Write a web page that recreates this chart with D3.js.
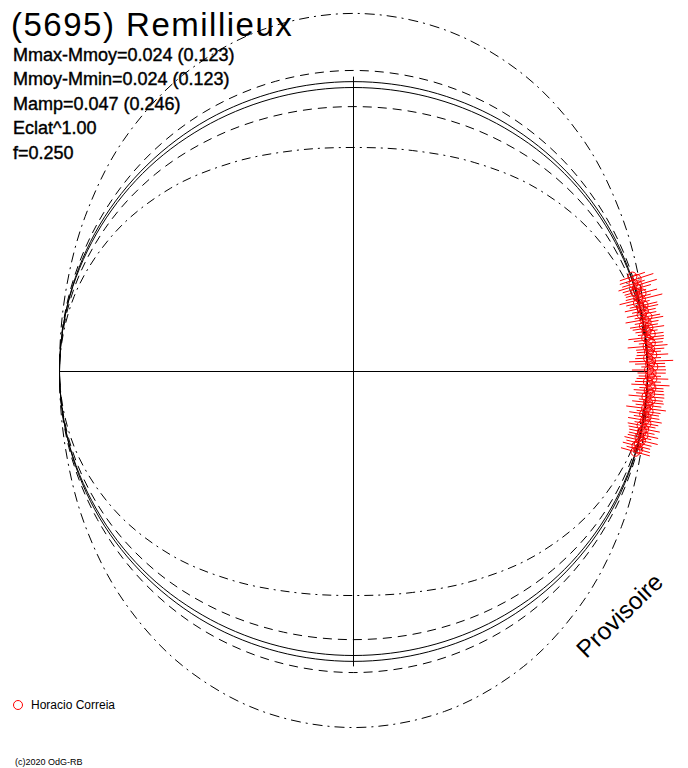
<!DOCTYPE html>
<html><head><meta charset="utf-8">
<script src="https://cdn.jsdelivr.net/npm/d3@7"></script>
<style>body{margin:0;background:#fff;} svg{display:block;}</style>
</head><body>
<script>
// ---- text ----
const titleText = "(5695) Remillieux";
const statLabels = ["Mmax-Mmoy=0.024 (0.123)", "Mmoy-Mmin=0.024 (0.123)", "Mamp=0.047 (0.246)", "Eclat^1.00", "f=0.250"];
const observerName = "Horacio Correia";
const creditText = "(c)2020 OdG-RB";
const stampText = "Provisoire";

// ---- model curves: polar angle (deg) and relative radius (brightness) ----
const curveAngles = [0,15,30,45,60,75,90,105,120,135,150,165,180,195,210,225,240,255,270,285,300,315,330,345];
const curveOuterDashDot = [1.000,1.015,1.054,1.109,1.163,1.203,1.218,1.203,1.163,1.109,1.054,1.015,1.000,1.014,1.053,1.105,1.158,1.197,1.211,1.197,1.158,1.105,1.053,1.014];
const curveOuterDashed  = [1.000,1.002,1.006,1.012,1.018,1.022,1.024,1.022,1.018,1.012,1.006,1.002,1.000,1.002,1.006,1.012,1.018,1.022,1.024,1.022,1.018,1.012,1.006,1.002];
const curveSolid1       = [1.000,0.999,0.997,0.993,0.990,0.987,0.986,0.987,0.990,0.993,0.997,0.999,1.000,0.999,0.997,0.993,0.990,0.987,0.986,0.987,0.990,0.993,0.997,0.999];
const curveSolid2       = [1.000,0.998,0.991,0.983,0.974,0.968,0.966,0.968,0.974,0.983,0.991,0.998,1.000,0.998,0.991,0.983,0.974,0.968,0.966,0.968,0.974,0.983,0.991,0.998];
const curveInnerDashed  = [1.000,0.993,0.975,0.951,0.926,0.908,0.901,0.908,0.926,0.951,0.975,0.993,1.000,0.994,0.978,0.956,0.934,0.918,0.912,0.918,0.934,0.956,0.978,0.994];
const curveInnerDashDot = [1.000,0.984,0.940,0.881,0.821,0.778,0.762,0.778,0.821,0.881,0.940,0.984,1.000,0.984,0.940,0.881,0.821,0.778,0.762,0.778,0.821,0.881,0.940,0.984];

// ---- observations: [angle deg, relative radius, error] ----
const observations = [
 [18.8,1.002,0.045],[18.1,1.013,0.060],[17.4,0.998,0.040],[16.9,1.010,0.068],[16.3,1.004,0.050],
 [15.7,0.996,0.038],[15.2,1.015,0.055],[14.6,1.001,0.044],[14.1,1.008,0.075],[13.5,0.995,0.041],
 [12.9,1.012,0.048],[12.4,1.003,0.058],[11.8,1.009,0.041],[11.2,0.999,0.051],[10.6,1.017,0.044],
 [10.1,1.005,0.065],[9.5,1.011,0.041],[8.9,1.000,0.048],[8.4,1.014,0.054],[7.8,1.006,0.038],
 [7.2,1.019,0.044],[6.6,1.002,0.061],[6.1,1.010,0.051],[5.5,1.016,0.041],[4.9,1.004,0.068],
 [4.3,1.012,0.048],[3.8,1.007,0.041],[3.2,1.018,0.054],[2.6,1.003,0.044],[2.0,1.013,0.075],
 [1.5,1.009,0.051],[0.9,1.020,0.041],[0.3,1.005,0.058],[-0.3,1.014,0.048],[-0.9,1.008,0.038],
 [-1.4,1.017,0.054],[-2.0,1.002,0.044],[-2.6,1.011,0.065],[-3.2,1.015,0.041],[-3.7,1.006,0.051],
 [-4.3,1.012,0.048],[-4.9,1.000,0.061],[-5.5,1.016,0.041],[-6.0,1.007,0.054],[-6.6,1.010,0.044],
 [-7.2,1.003,0.068],[-7.8,1.013,0.041],[-8.3,0.999,0.051],[-8.9,1.009,0.044],[-9.5,1.005,0.058],
 [-10.1,1.012,0.041],[-10.6,0.997,0.048],[-11.2,1.008,0.054],[-11.8,1.002,0.044],[-12.4,1.010,0.051],
 [-12.9,0.998,0.041],[-13.5,1.006,0.058],[-14.1,1.001,0.044],[-14.7,0.995,0.048],[-15.3,1.004,0.041],
 [-15.9,0.997,0.051]
];

// ---- layout ----
const W = 688, H = 768;
const cx = 353.5, cy = 371.5;
const rScale = d3.scaleLinear().domain([0, 1]).range([0, 294]);
const toRad = d => d * Math.PI / 180;

const svg = d3.select("body").append("svg").attr("width", W).attr("height", H);
svg.append("rect").attr("width", W).attr("height", H).attr("fill", "#fff");

const g = svg.append("g").attr("transform", `translate(${cx},${cy})`);

// axes
g.append("line").attr("x1", -rScale(1)).attr("x2", rScale(1)).attr("y1", 0).attr("y2", 0)
  .attr("stroke", "#000").attr("stroke-width", 1);
g.append("line").attr("y1", -rScale(1.003)).attr("y2", rScale(1.003)).attr("x1", 0).attr("x2", 0)
  .attr("stroke", "#000").attr("stroke-width", 1);

// curves
const radial = d3.lineRadial()
  .angle(d => Math.PI / 2 - toRad(d[0]))
  .radius(d => rScale(d[1]))
  .curve(d3.curveCardinalClosed.tension(0));

const curves = [
  {v: curveOuterDashDot, dash: "10,5,2,5"},
  {v: curveOuterDashed, dash: "9,6"},
  {v: curveSolid1, dash: null},
  {v: curveSolid2, dash: null},
  {v: curveInnerDashed, dash: "9,6"},
  {v: curveInnerDashDot, dash: "9,5,2,5"}
];
curves.forEach(c => {
  const pts = curveAngles.map((a, i) => [a, c.v[i]]);
  g.append("path").attr("d", radial(pts))
    .attr("fill", "none").attr("stroke", "#000").attr("stroke-width", 1)
    .attr("stroke-dasharray", c.dash);
});

// observations
const px = (a, r) => rScale(r) * Math.cos(toRad(a));
const py = (a, r) => -rScale(r) * Math.sin(toRad(a));
const obs = g.append("g");
obs.selectAll("line").data(observations).join("line")
  .attr("x1", d => px(d[0], d[1] - d[2])).attr("y1", d => py(d[0], d[1] - d[2]))
  .attr("x2", d => px(d[0], d[1] + d[2])).attr("y2", d => py(d[0], d[1] + d[2]))
  .attr("stroke", "#ff0000").attr("stroke-width", 1);
obs.selectAll("circle").data(observations).join("circle")
  .attr("cx", d => px(d[0], d[1])).attr("cy", d => py(d[0], d[1]))
  .attr("r", 4.5).attr("fill", "none").attr("stroke", "#ff0000").attr("stroke-width", 1);

// texts
const font = "'Liberation Sans', Arial, Helvetica, sans-serif";
svg.append("text").attr("x", 11).attr("y", 36).text(titleText)
  .attr("font-family", font).attr("font-size", 33).attr("letter-spacing", 1.5).attr("fill", "#000");
svg.selectAll("text.stat").data(statLabels).join("text").attr("class", "stat")
  .attr("x", 13).attr("y", (d, i) => 61 + i * 24.4).text(d => d)
  .attr("font-family", font).attr("font-size", 18).attr("fill", "#000")
  .attr("stroke", "#000").attr("stroke-width", 0.4);

svg.append("circle").attr("cx", 18).attr("cy", 705).attr("r", 4.5)
  .attr("fill", "none").attr("stroke", "#ff0000").attr("stroke-width", 1);
svg.append("text").attr("x", 31).attr("y", 709).text(observerName)
  .attr("font-family", font).attr("font-size", 12).attr("fill", "#000");
svg.append("text").attr("x", 15).attr("y", 765).text(creditText)
  .attr("font-family", font).attr("font-size", 9).attr("fill", "#000");

svg.append("text").attr("transform", "translate(625.5,621.5) rotate(-44)")
  .attr("text-anchor", "middle").text(stampText)
  .attr("font-family", font).attr("font-size", 24.5).attr("fill", "#000");
</script>
</body></html>
